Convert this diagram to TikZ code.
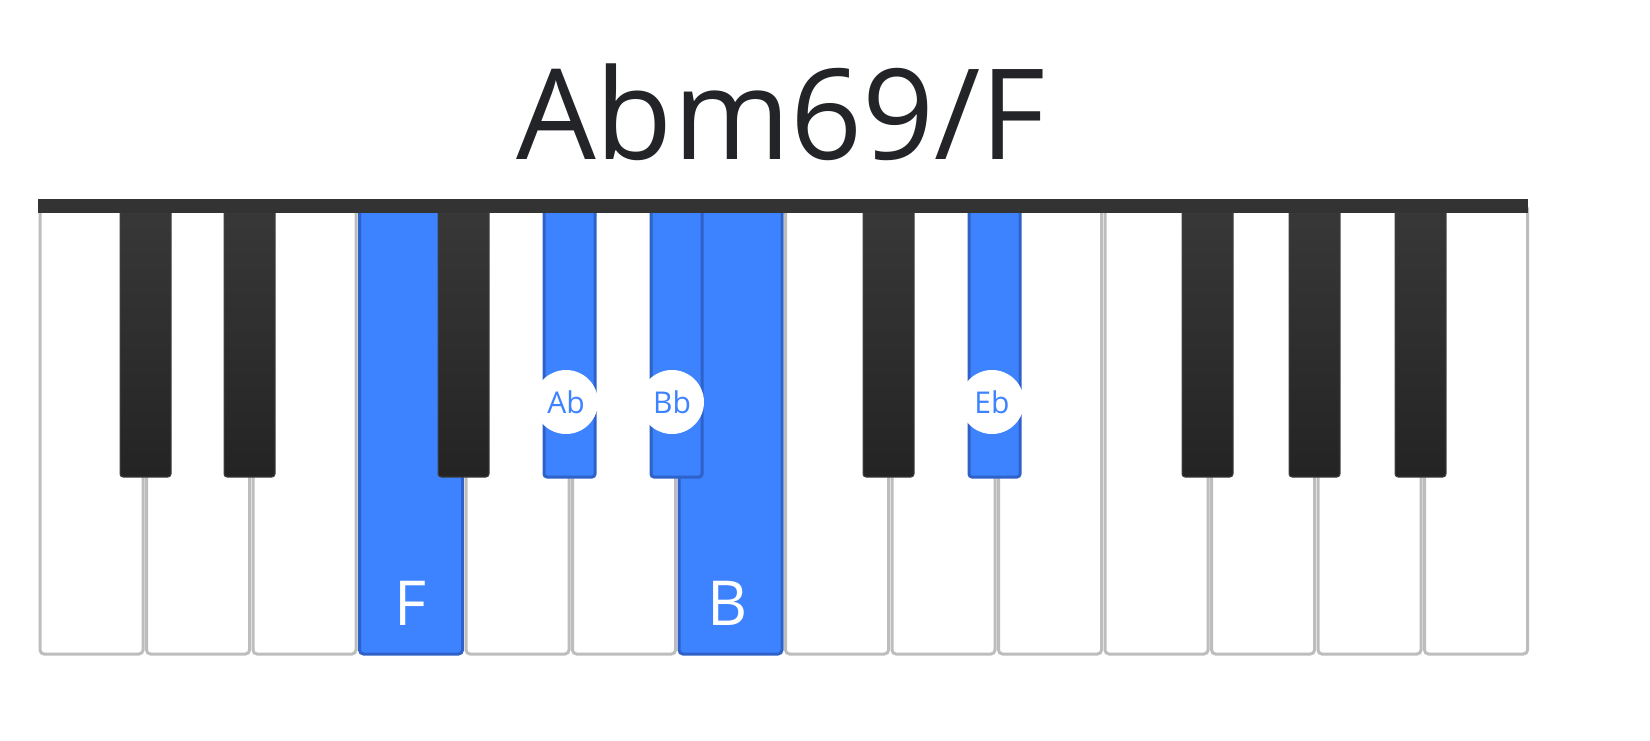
\documentclass[tikz,border=0pt]{standalone}
\usepackage{fontspec}
\setmainfont{Open Sans}
\definecolor{kblue}{HTML}{3D82FE}
\definecolor{kblueb}{HTML}{2F62C9}
\definecolor{kgray}{HTML}{BDBDBD}
\definecolor{ktitle}{HTML}{222428}
\begin{document}
\begin{tikzpicture}[x=0.5pt,y=-0.5pt,
  whitekey/.style={draw=kgray,line width=1.5pt,fill=white,rounded corners=2pt},
  bluewhite/.style={draw=kblueb,line width=1.5pt,fill=kblue,rounded corners=2pt},
  blackkey/.style={top color=black!78,bottom color=black!86,draw=black!75,line width=0.5pt,rounded corners=1.5pt},
  blueblack/.style={fill=kblue,draw=kblueb,line width=1.5pt,rounded corners=1.5pt},
  notecirc/.style={circle,fill=white,minimum size=32pt,inner sep=0pt,text=kblue,font=\fontsize{15}{15}\selectfont},
  keylabel/.style={text=white,font=\fontsize{31}{31}\selectfont}]
\useasboundingbox (0,0) rectangle (1650,740);
\node[text=ktitle,font=\fontsize{63}{63}\selectfont] (title) at (781,112) {Abm69/F};
% white keys
\foreach \i in {0,...,13}{
  \pgfmathsetmacro{\xa}{40+\i*106.5}
  \pgfmathsetmacro{\xb}{\xa+103}
  \ifnum\i=3 \def\st{bluewhite}\else\ifnum\i=6 \def\st{bluewhite}\else\def\st{whitekey}\fi\fi
  \path[\st] (\xa,205) rectangle (\xb,654);
}
% black keys
\foreach \x/\b in {120/0,224/0,438/0,544/1,651/1,863/0,969/1,1182/0,1289/0,1395/0}{
  \ifnum\b=1 \def\st{blueblack}\else\def\st{blackkey}\fi
  \path[\st] (\x,206) rectangle (\x+51,477);
}
\fill[black!80] (38,199) rectangle (1528,213);
\node[notecirc] (ab) at (566,402) {Ab};
\node[notecirc] (bb) at (672,402) {Bb};
\node[notecirc] (eb) at (992,402) {Eb};
\node[keylabel] (f) at (410,603) {F};
\node[keylabel] (b) at (728,603) {B};
\end{tikzpicture}
\end{document}
